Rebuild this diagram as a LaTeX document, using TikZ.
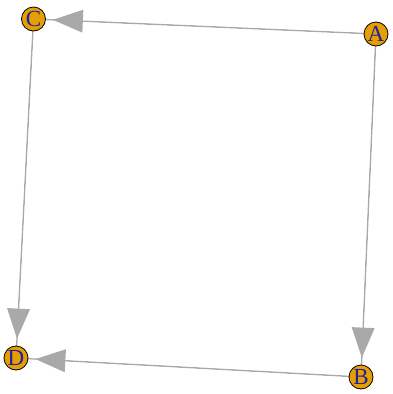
\documentclass[tikz,border=0pt]{standalone}
\usepackage{fontspec}
\setmainfont{Liberation Serif}
\usetikzlibrary{arrows.meta}
\pgfdeclarelayer{background}
\pgfsetlayers{background,main}
\definecolor{vfill}{HTML}{E69F00}
\definecolor{vlabel}{HTML}{2020A0}
\definecolor{egray}{HTML}{A9A9A9}
\begin{document}
\begin{tikzpicture}[x=1pt,y=-1pt,
  vert/.style={circle,draw=black,line width=0.8pt,fill=vfill,minimum size=24pt,inner sep=0pt,
    text=vlabel,font=\fontsize{23}{23}\selectfont},
  eline/.style={draw=egray,line width=1.3pt},
  ehead/.style={draw=egray,line width=0pt,-{Triangle[length=30pt,width=23pt,fill=egray]},shorten >=7pt}]
\useasboundingbox (0,0) rectangle (392,394);
\node[vert] (C) at (33.5,19) {C};
\node[vert] (A) at (376,34) {A};
\node[vert] (D) at (16,358) {D};
\node[vert] (B) at (361,377) {B};
\begin{pgfonlayer}{background}
\foreach \s/\t in {A/C, C/D, A/B, B/D}{
  \path[eline] (\s.center) -- (\t.center);
  \path[ehead] (\s) -- (\t);
}
\end{pgfonlayer}
\end{tikzpicture}
\end{document}
